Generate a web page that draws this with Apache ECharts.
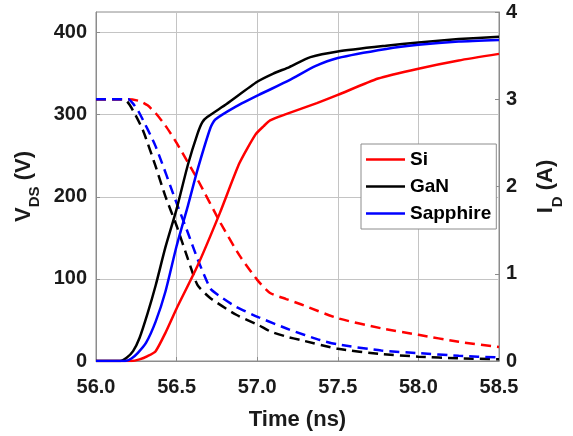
<!DOCTYPE html>
<html style="height: 100%">
<head>
	<meta charset="utf-8">
</head>
<body style="height: 100%; margin: 0; background: #fff">
<div id="container" style="width: 573px; height: 436px"></div>
<script type="text/javascript" src="https://cdn.jsdelivr.net/npm/echarts@6/dist/echarts.min.js"></script>
<script type="text/javascript">
    // V_DS (left axis, V) : [time ns, volts]
    var siVds = [[56.0, 0], [56.22, 0], [56.27, 2], [56.32, 6], [56.37, 12], [56.43, 34], [56.5, 64], [56.63, 116],
        [56.77, 181], [56.89, 241], [56.99, 276], [57.04, 286], [57.08, 293], [57.17, 300], [57.37, 314],
        [57.5, 324], [57.75, 344], [58.0, 356], [58.25, 366], [58.5, 374]];
    var ganVds = [[56.0, 0], [56.15, 0], [56.19, 4], [56.23, 12], [56.27, 28], [56.32, 58], [56.37, 92], [56.43, 138],
        [56.5, 185], [56.57, 239], [56.63, 277], [56.66, 291], [56.69, 297], [56.81, 313], [57.0, 340],
        [57.1, 350], [57.2, 358], [57.33, 370], [57.5, 377], [57.8, 384], [58.0, 388], [58.25, 392], [58.5, 395]];
    var sapVds = [[56.0, 0], [56.18, 0], [56.22, 3], [56.26, 10], [56.31, 22], [56.37, 48], [56.43, 84], [56.5, 140],
        [56.57, 189], [56.63, 233], [56.71, 284], [56.74, 294], [56.87, 310], [57.01, 324], [57.2, 342],
        [57.36, 359], [57.5, 369], [57.8, 380], [58.0, 385], [58.25, 389], [58.5, 391]];

    // I_D (right axis, A) : [time ns, amps]
    var siId = [[56.0, 3.0], [56.2, 3.0], [56.27, 2.98], [56.32, 2.93], [56.37, 2.84], [56.43, 2.7], [56.5, 2.5],
        [56.63, 2.08], [56.77, 1.59], [56.89, 1.21], [57.0, 0.93], [57.08, 0.78], [57.18, 0.71], [57.27, 0.65],
        [57.5, 0.49], [57.77, 0.375], [58.0, 0.3], [58.25, 0.22], [58.5, 0.16]];
    var ganId = [[56.0, 3.0], [56.15, 3.0], [56.19, 2.98], [56.23, 2.87], [56.29, 2.65], [56.37, 2.23], [56.43, 1.89],
        [56.5, 1.55], [56.57, 1.17], [56.63, 0.87], [56.71, 0.72], [56.87, 0.53], [57.01, 0.41], [57.08, 0.34],
        [57.18, 0.28], [57.27, 0.24], [57.5, 0.14], [57.77, 0.08], [58.0, 0.05], [58.25, 0.03], [58.5, 0.02]];
    var sapId = [[56.0, 3.0], [56.2, 3.0], [56.23, 2.95], [56.27, 2.84], [56.37, 2.46], [56.5, 1.81], [56.57, 1.47],
        [56.63, 1.17], [56.71, 0.83], [56.77, 0.74], [56.87, 0.62], [57.01, 0.5], [57.2, 0.36], [57.39, 0.24],
        [57.5, 0.19], [57.77, 0.12], [58.0, 0.09], [58.25, 0.06], [58.5, 0.04]];

    var seriesNames = ['Si', 'GaN', 'Sapphire'];
    var colors = ['#ff0000', '#000000', '#0000ff'];

    var dom = document.getElementById("container");
    var myChart = echarts.init(dom);

    var font = 'Liberation Sans';
    var tickLabel = {
        fontFamily: font,
        fontWeight: 'bold',
        fontSize: 20,
        color: '#1a1a1a'
    };
    var nameRich = {
        v: {fontFamily: font, fontWeight: 'bold', fontSize: 22, color: '#1a1a1a', lineHeight: 30, verticalAlign: 'top'},
        s: {fontFamily: font, fontWeight: 'bold', fontSize: 15, color: '#1a1a1a', lineHeight: 30, verticalAlign: 'bottom'}
    };

    function solid(name, data, color) {
        return {
            name: name,
            type: 'line',
            yAxisIndex: 0,
            data: data,
            symbol: 'none',
            smooth: 0.2,
            lineStyle: {color: color, width: 2.5},
            itemStyle: {color: color},
            z: 3
        };
    }

    function dashed(name, data, color) {
        return {
            name: name + ' ID',
            type: 'line',
            yAxisIndex: 1,
            data: data,
            symbol: 'none',
            smooth: 0.2,
            lineStyle: {color: color, width: 2.5, type: [10, 6]},
            itemStyle: {color: color},
            z: 2
        };
    }

    var lineIcon = 'path://M0,0L40,0L40,2.6L0,2.6Z';

    var option = {
        backgroundColor: '#fff',
        animation: false,
        grid: {
            left: 96,
            right: 65,
            top: 12,
            bottom: 73,
            show: true,
            borderColor: '#8c8c8c',
            borderWidth: 1
        },
        legend: {
            data: seriesNames.map(function (n) { return {name: n, icon: lineIcon}; }),
            orient: 'vertical',
            left: 361,
            top: 144,
            padding: [6, 5, 6, 5],
            itemWidth: 39,
            itemHeight: 20,
            itemGap: 8,
            backgroundColor: '#fff',
            borderColor: '#8c8c8c',
            borderWidth: 1,
            textStyle: {fontFamily: font, fontWeight: 'bold', fontSize: 19, color: '#000'}
        },
        xAxis: {
            type: 'value',
            min: 56,
            max: 58.5,
            interval: 0.5,
            name: 'Time (ns)',
            nameLocation: 'middle',
            nameGap: 48,
            nameTextStyle: {fontFamily: font, fontWeight: 'bold', fontSize: 22, color: '#1a1a1a'},
            axisLine: {lineStyle: {color: '#8c8c8c'}},
            axisTick: {inside: true, length: 4, lineStyle: {color: '#8c8c8c'}},
            axisLabel: Object.assign({margin: 16, formatter: function (v) { return v.toFixed(1); }}, tickLabel),
            splitLine: {show: true, lineStyle: {color: '#c4c4c4', width: 1}}
        },
        yAxis: [
            {
                type: 'value',
                min: 0,
                max: 425,
                interval: 100,
                name: '{v|V}{s|DS}{v| (V)}',
                nameLocation: 'middle',
                nameRotate: 90,
                nameGap: 52,
                nameTextStyle: {rich: nameRich},
                axisLine: {show: true, lineStyle: {color: '#8c8c8c'}},
                axisTick: {show: true, inside: true, length: 4, lineStyle: {color: '#8c8c8c'}},
                axisLabel: Object.assign({margin: 9, showMaxLabel: false,
                    formatter: function (v) { return v % 100 === 0 ? String(v) : ''; }}, tickLabel),
                splitLine: {show: true, lineStyle: {color: '#c4c4c4', width: 1}}
            },
            {
                type: 'value',
                min: 0,
                max: 4,
                interval: 1,
                position: 'right',
                name: '{v|I}{s|D}{v| (A)}',
                nameLocation: 'middle',
                nameRotate: 90,
                nameGap: 36,
                nameTextStyle: {rich: nameRich},
                axisLine: {show: true, lineStyle: {color: '#8c8c8c'}},
                axisTick: {show: true, inside: true, length: 4, lineStyle: {color: '#8c8c8c'}},
                axisLabel: Object.assign({margin: 7}, tickLabel),
                splitLine: {show: false}
            }
        ],
        series: [
            dashed('GaN', ganId, colors[1]),
            dashed('Si', siId, colors[0]),
            dashed('Sapphire', sapId, colors[2]),
            solid('Si', siVds, colors[0]),
            solid('GaN', ganVds, colors[1]),
            solid('Sapphire', sapVds, colors[2])
        ]
    };

    if (option && typeof option === "object") {
        myChart.setOption(option, true);
    }
</script>
</body>
</html>
